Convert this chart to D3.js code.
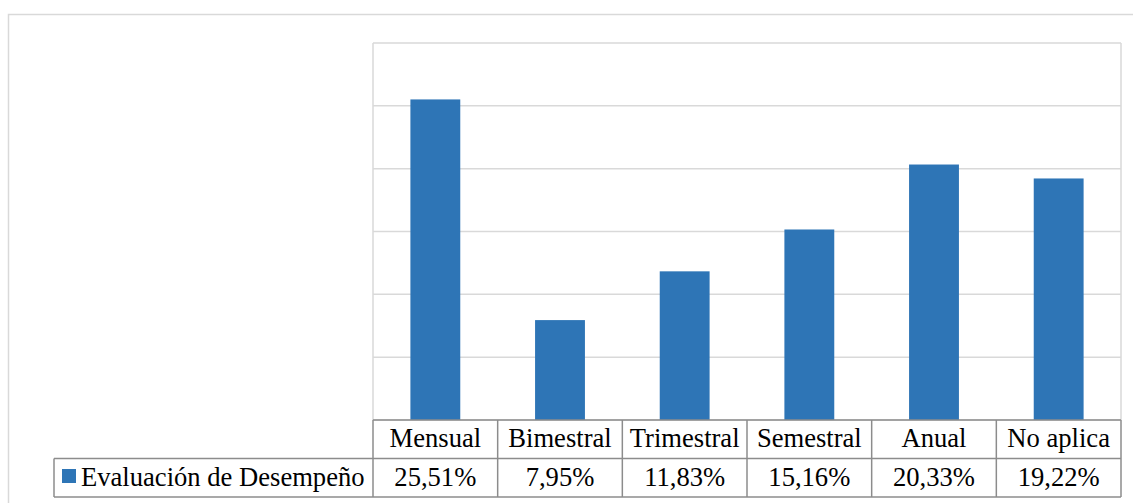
<script src="https://cdn.jsdelivr.net/npm/d3@7"></script>
<style>
  body { margin: 0; background: #fff; }
</style>
<svg id="chart" width="1133" height="503"></svg>
<script>
// data
var categories = ["Mensual", "Bimestral", "Trimestral", "Semestral", "Anual", "No aplica"]
var values = [25.51, 7.95, 11.83, 15.16, 20.33, 19.22]
var valueLabels = ["25,51%", "7,95%", "11,83%", "15,16%", "20,33%", "19,22%"]
var seriesName = "Evaluación de Desempeño"
var gridTicks = [0, 5, 10, 15, 20, 25, 30]

var svg = d3.select('#chart')

var plotL = 373, plotR = 1121, plotT = 43, plotB = 420
var rowH = 38.5
var fontSize = 26.6
var serif = "Liberation Serif"

// outer chart border
svg.append('rect')
  .attr('x', 8.5).attr('y', 14.5)
  .attr('width', 1140).attr('height', 520)
  .attr('fill', 'none')
  .attr('stroke', '#d9d9d9')
  .attr('stroke-width', 1.5)

var x = d3.scaleBand()
  .domain(categories)
  .range([plotL, plotR])
  .padding(0)

var y = d3.scaleLinear()
  .domain([0, 30])
  .range([plotB, plotT])

// gridlines
svg.append('g')
  .selectAll('line')
  .data(gridTicks)
  .enter().append('line')
    .attr('x1', plotL).attr('x2', plotR)
    .attr('y1', d => y(d)).attr('y2', d => y(d))
    .attr('stroke', '#d9d9d9')
    .attr('stroke-width', 1.5)

// plot area left/right edges
svg.append('line')
  .attr('x1', plotL).attr('x2', plotL).attr('y1', plotT).attr('y2', plotB)
  .attr('stroke', '#d9d9d9').attr('stroke-width', 1.5)
svg.append('line')
  .attr('x1', plotR).attr('x2', plotR).attr('y1', plotT).attr('y2', plotB)
  .attr('stroke', '#d9d9d9').attr('stroke-width', 1.5)

var barW = x.bandwidth() * 0.4

svg.append('g')
  .selectAll('rect')
  .data(values)
  .enter().append('rect')
    .attr('x', (d, i) => x(categories[i]) + (x.bandwidth() - barW) / 2)
    .attr('y', d => y(d))
    .attr('width', barW)
    .attr('height', d => y(0) - y(d))
    .attr('fill', '#2e75b6')

// data table
var tbl = svg.append('g')
var lineCol = '#8c8c8c'
var legendLeft = 54

// horizontal lines
tbl.append('line')
  .attr('x1', plotL).attr('x2', plotR).attr('y1', plotB).attr('y2', plotB)
  .attr('stroke', lineCol).attr('stroke-width', 1.5)
tbl.append('line')
  .attr('x1', legendLeft).attr('x2', plotR).attr('y1', plotB + rowH).attr('y2', plotB + rowH)
  .attr('stroke', lineCol).attr('stroke-width', 1.5)
tbl.append('line')
  .attr('x1', legendLeft).attr('x2', plotR).attr('y1', plotB + 2 * rowH).attr('y2', plotB + 2 * rowH)
  .attr('stroke', lineCol).attr('stroke-width', 1.5)

// vertical lines
var cols = categories.map(c => x(c)).concat([plotR])
tbl.selectAll('line.v')
  .data(cols)
  .enter().append('line')
    .attr('class', 'v')
    .attr('x1', d => d).attr('x2', d => d)
    .attr('y1', plotB).attr('y2', plotB + 2 * rowH)
    .attr('stroke', lineCol).attr('stroke-width', 1.5)
tbl.append('line')
  .attr('x1', legendLeft).attr('x2', legendLeft)
  .attr('y1', plotB + rowH).attr('y2', plotB + 2 * rowH)
  .attr('stroke', lineCol).attr('stroke-width', 1.5)

tbl.selectAll('text.cat')
  .data(categories)
  .enter().append('text')
    .attr('class', 'cat')
    .attr('x', d => x(d) + x.bandwidth() / 2)
    .attr('y', plotB + 27)
    .attr('text-anchor', 'middle')
    .attr('font-family', serif)
    .attr('font-size', fontSize)
    .attr('fill', '#000')
    .text(d => d)

tbl.selectAll('text.val')
  .data(valueLabels)
  .enter().append('text')
    .attr('class', 'val')
    .attr('x', (d, i) => x(categories[i]) + x.bandwidth() / 2)
    .attr('y', plotB + rowH + 27)
    .attr('text-anchor', 'middle')
    .attr('font-family', serif)
    .attr('font-size', fontSize)
    .attr('fill', '#000')
    .text(d => d)

// legend key
tbl.append('rect')
  .attr('x', 62).attr('y', 469)
  .attr('width', 14).attr('height', 14)
  .attr('fill', '#2e75b6')
tbl.append('text')
  .attr('x', 81)
  .attr('y', plotB + rowH + 27)
  .attr('font-family', serif)
  .attr('font-size', fontSize)
  .attr('fill', '#000')
  .text(seriesName)
</script>
